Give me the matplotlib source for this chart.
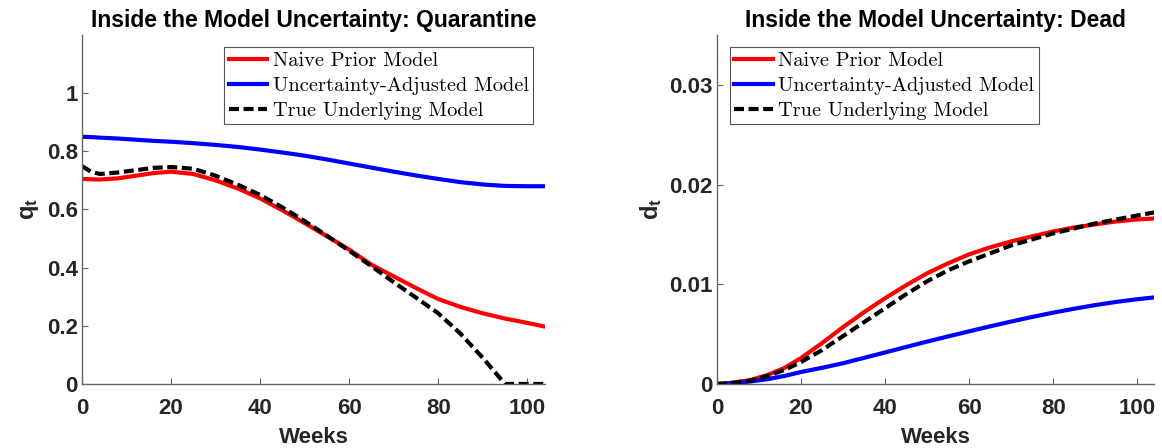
import matplotlib
matplotlib.use("Agg")
import matplotlib.pyplot as plt
from matplotlib.ticker import FuncFormatter

plt.rcParams['font.family'] = ['Liberation Sans', 'DejaVu Sans']
plt.rcParams['mathtext.fontset'] = 'custom'
plt.rcParams['mathtext.rm'] = 'Liberation Sans'
plt.rcParams['mathtext.bf'] = 'Liberation Sans:bold'
plt.rcParams['mathtext.it'] = 'Liberation Sans:italic'

weeks = [0, 2, 4, 8, 12, 16, 20, 25, 30, 35, 40, 45, 50, 55, 60, 65, 70, 75, 80, 85, 90, 95, 100, 104]

# quarantine q_t
q_naive = [0.705, 0.704, 0.703, 0.707, 0.716, 0.725, 0.730, 0.722, 0.700, 0.672, 0.638, 0.597,
           0.553, 0.508, 0.462, 0.410, 0.370, 0.330, 0.292, 0.265, 0.243, 0.225, 0.210, 0.197]
q_adjusted = [0.850, 0.849, 0.847, 0.844, 0.840, 0.836, 0.833, 0.828, 0.822, 0.815, 0.806, 0.796,
              0.785, 0.772, 0.758, 0.744, 0.730, 0.717, 0.705, 0.694, 0.686, 0.681, 0.680, 0.680]
q_true = [0.749, 0.730, 0.722, 0.727, 0.735, 0.743, 0.746, 0.740, 0.716, 0.685, 0.650, 0.607,
          0.560, 0.510, 0.458, 0.405, 0.350, 0.297, 0.243, 0.173, 0.090, 0.0, 0.0, 0.0]

# dead d_t
d_naive = [0.0, 0.00005, 0.00015, 0.0004, 0.0009, 0.0016, 0.0026, 0.0041, 0.0057, 0.0072, 0.0086, 0.0099,
           0.0111, 0.0121, 0.0130, 0.0137, 0.0143, 0.0148, 0.0153, 0.0157, 0.0160, 0.0163, 0.0165, 0.0166]
d_adjusted = [0.0, 0.00003, 0.00008, 0.00025, 0.00048, 0.00080, 0.00120, 0.00162, 0.00208, 0.00262, 0.00316,
              0.00371, 0.00425, 0.00477, 0.00528, 0.00578, 0.00626, 0.00672, 0.00715, 0.00755, 0.00791,
              0.00823, 0.00850, 0.00868]
d_true = [0.0, 0.00004, 0.00012, 0.00035, 0.0008, 0.0014, 0.0022, 0.0034, 0.0048, 0.0062, 0.0076, 0.0090,
          0.0103, 0.0114, 0.0123, 0.0131, 0.0139, 0.0145, 0.0151, 0.0156, 0.0161, 0.0165, 0.0169, 0.0172]

series_labels = ['Naive Prior Model', 'Uncertainty-Adjusted Model', 'True Underlying Model']
x_ticks = [0, 20, 40, 60, 80, 100]
q_ticks = [0, 0.2, 0.4, 0.6, 0.8, 1]
d_ticks = [0, 0.01, 0.02, 0.03]

fig = plt.figure(figsize=(11.62, 4.48), dpi=100)
ax1 = fig.add_axes([0.0706, 0.1429, 0.3985, 0.779])
ax2 = fig.add_axes([0.6170, 0.1429, 0.3761, 0.779])

panels = [
    (ax1, q_naive, q_adjusted, q_true, 'Inside the Model Uncertainty: Quarantine',
     r'$\mathbf{q_t}$', q_ticks, 1.2, 'upper right', (0.974, 0.9656)),
    (ax2, d_naive, d_adjusted, d_true, 'Inside the Model Uncertainty: Dead',
     r'$\mathbf{d_t}$', d_ticks, 0.035, 'upper left', (0.0297, 0.9656)),
]

for ax, naive, adjusted, true, title, ylab, yticks, ytop, loc, anchor in panels:
    ax.plot(weeks, naive, color='red', lw=3, label=series_labels[0])
    ax.plot(weeks, adjusted, color='blue', lw=3, label=series_labels[1])
    ax.plot(weeks, true, color='black', lw=3, dashes=(2.4, 1.1), label=series_labels[2])

    ax.set_xlim(0, 104)
    ax.set_ylim(0, ytop)
    ax.set_xticks(x_ticks)
    ax.set_yticks(yticks)
    ax.yaxis.set_major_formatter(FuncFormatter(lambda v, p: '%g' % v))

    for side in ['top', 'right']:
        ax.spines[side].set_visible(False)
    for side in ['left', 'bottom']:
        ax.spines[side].set_color('#666666')
        ax.spines[side].set_linewidth(1.0)
    ax.tick_params(direction='in', length=4, width=0.8, color='#666666',
                   labelsize=16, labelcolor='#262626')
    ax.tick_params(axis='x', pad=10)
    ax.tick_params(axis='y', pad=3)
    for lbl in ax.get_xticklabels() + ax.get_yticklabels():
        lbl.set_fontweight('bold')

    ax.set_title(title, fontsize=16.5, fontweight='bold', pad=6)
    ax.set_xlabel('Weeks', fontsize=16, fontweight='bold', color='#262626', labelpad=6)
    ax.set_ylabel(ylab, fontsize=17, color='#262626', labelpad=4)

    leg = ax.legend(loc=loc, bbox_to_anchor=anchor, borderaxespad=0,
                    prop={'family': 'cmr10', 'size': 14.7},
                    handlelength=1.9, handletextpad=0.25, labelspacing=0.33,
                    borderpad=0.22, fancybox=False, framealpha=1)
    leg.get_frame().set_edgecolor('#555555')
    leg.get_frame().set_linewidth(0.8)

fig.savefig('out.png', dpi=100)
